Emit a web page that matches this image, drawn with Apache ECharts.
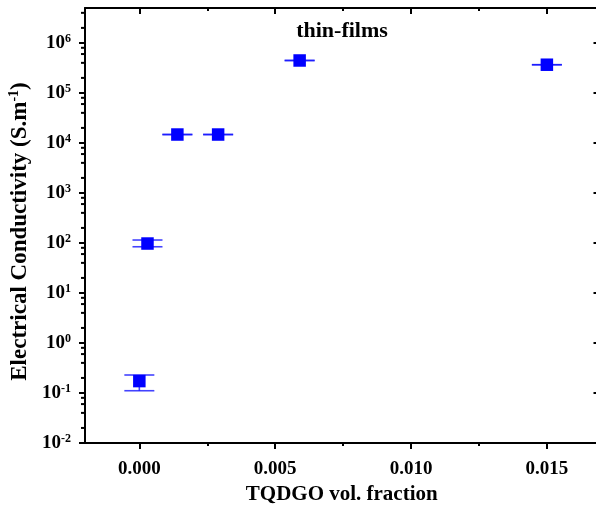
<!DOCTYPE html>
<html>
<head>
<meta charset="utf-8">
<script src="https://cdn.jsdelivr.net/npm/echarts@6/dist/echarts.min.js"></script>
<style>html,body{margin:0;padding:0;background:#fff}#c{width:596px;height:509px}</style>
</head>
<body>
<div id="c"></div>
<script>
// ---- data ----
const xValues = [0.0000, 0.0003, 0.0014, 0.0029, 0.0059, 0.0150];
const yValues = [0.173, 97.5, 14750, 14750, 446000, 367000];
const yErrLow = [0.111, 84, 14750, 14750, 446000, 367000];
const yErrHigh = [0.229, 114.6, 14750, 14750, 446000, 367000];
const xMajorTicks = [0, 0.005, 0.010, 0.015];
const xMinorTicks = [0.0025, 0.0075, 0.0125];
const yMajorTicks = [1e-2, 1e-1, 1e0, 1e1, 1e2, 1e3, 1e4, 1e5, 1e6];
const yMinorTicks = [0.02, 0.04, 0.06, 0.08, 0.2, 0.4, 0.6, 0.8, 2, 4, 6, 8, 20, 40, 60, 80,
  200, 400, 600, 800, 2000, 4000, 6000, 8000, 20000, 40000, 60000, 80000,
  200000, 400000, 600000, 800000, 2000000, 4000000];
const annotation = 'thin-films';
const xTitle = 'TQDGO vol. fraction';

const FONT = 'Liberation Serif';
const X_MIN = -0.002, X_MAX = 0.0169, Y_MIN = 0.01, Y_MAX = 5e6;

const chart = echarts.init(document.getElementById('c'), null, {renderer: 'canvas'});

function xAxisDef(opts) {
  return Object.assign({
    type: 'value', min: X_MIN, max: X_MAX, gridIndex: 0,
    splitLine: {show: false},
    axisLine: {show: false, onZero: false, lineStyle: {color: '#000', width: 2}},
    axisLabel: {show: false},
    axisTick: {show: false}
  }, opts);
}
function yAxisDef(opts) {
  return Object.assign({
    type: 'log', logBase: 10, min: Y_MIN, max: Y_MAX, gridIndex: 0,
    splitLine: {show: false},
    axisLine: {show: false, onZero: false, lineStyle: {color: '#000', width: 2}},
    axisLabel: {show: false},
    axisTick: {show: false}
  }, opts);
}

const supFmt = function (v) {
  const e = Math.round(Math.log10(v));
  return '{b|10}{s|' + (e < 0 ? '-' + (-e) : e) + '}';
};

const option = {
  animation: false,
  backgroundColor: '#fff',
  grid: {left: 85, top: 8, bottom: 66, width: 513.5, containLabel: false, outerBoundsMode: 'none'},
  xAxis: [
    xAxisDef({
      position: 'bottom',
      name: xTitle, nameLocation: 'middle', nameGap: 41,
      nameTextStyle: {fontFamily: FONT, fontWeight: 'bold', fontSize: 21, color: '#000', verticalAlign: 'top'},
      axisLine: {show: true, onZero: false, lineStyle: {color: '#000', width: 2}},
      axisTick: {show: true, inside: false, length: 6, lineStyle: {color: '#000', width: 2}, customValues: xMajorTicks},
      axisLabel: {show: true, margin: 17, customValues: xMajorTicks,
        formatter: function (v) { return v.toFixed(3); },
        fontFamily: FONT, fontWeight: 'bold', fontSize: 19, color: '#000'}
    }),
    xAxisDef({
      position: 'bottom',
      axisTick: {show: true, inside: false, length: 3, lineStyle: {color: '#000', width: 2}, customValues: xMinorTicks}
    }),
    xAxisDef({
      position: 'top',
      axisLine: {show: true, onZero: false, lineStyle: {color: '#000', width: 2}},
      axisTick: {show: true, inside: true, length: 6, lineStyle: {color: '#000', width: 2}, customValues: xMajorTicks}
    }),
    xAxisDef({
      position: 'top',
      axisTick: {show: true, inside: true, length: 3, lineStyle: {color: '#000', width: 2}, customValues: xMinorTicks}
    })
  ],
  yAxis: [
    yAxisDef({
      position: 'left',
      name: '{t|Electrical Conductivity (S.m}{s|-1}{t|)}',
      nameLocation: 'middle', nameGap: 44, nameRotate: 90,
      nameTextStyle: {
        padding: [0, 12, 0, 0],
        rich: {
          t: {fontFamily: FONT, fontWeight: 'bold', fontSize: 23, color: '#000', lineHeight: 24, verticalAlign: 'bottom'},
          s: {fontFamily: FONT, fontWeight: 'bold', fontSize: 14, color: '#000', lineHeight: 14, verticalAlign: 'top'}
        }
      },
      axisLine: {show: true, onZero: false, lineStyle: {color: '#000', width: 2}},
      axisTick: {show: true, inside: false, length: 6, lineStyle: {color: '#000', width: 2}, customValues: yMajorTicks},
      axisLabel: {show: true, margin: 14, customValues: yMajorTicks, formatter: supFmt,
        rich: {
          b: {fontFamily: FONT, fontWeight: 'bold', fontSize: 19, color: '#000', lineHeight: 20, verticalAlign: 'bottom'},
          s: {fontFamily: FONT, fontWeight: 'bold', fontSize: 12, color: '#000', lineHeight: 12, verticalAlign: 'top'}
        }
      }
    }),
    yAxisDef({
      position: 'right',
      axisLine: {show: true, onZero: false, lineStyle: {color: '#000', width: 2}},
      axisTick: {show: true, inside: true, length: 5, lineStyle: {color: '#000', width: 2}, customValues: yMajorTicks}
    })
  ],
  graphic: [{
    type: 'text', z: 100,
    style: {text: annotation, x: 342, y: 31, textAlign: 'center', textVerticalAlign: 'middle',
      font: 'bold 22px "Liberation Serif"', fill: '#000'}
  }],
  series: [
    {
      // minor ticks of the left log axis (2,4,6,8 x 10^n), placed through the axis scale
      type: 'scatter', xAxisIndex: 0, yAxisIndex: 0, z: 5, silent: true, clip: false,
      symbol: 'rect', symbolSize: [4, 2], symbolOffset: [-2, 0],
      itemStyle: {color: '#000', opacity: 1},
      data: yMinorTicks.map(function (v) { return [X_MIN, v]; })
    },
    {
      type: 'custom', xAxisIndex: 0, yAxisIndex: 0, z: 2,
      data: xValues.map(function (x, i) { return [x, yErrLow[i], yErrHigh[i]]; }),
      renderItem: function (params, api) {
        const lo = api.coord([api.value(0), api.value(1)]);
        const hi = api.coord([api.value(0), api.value(2)]);
        const hw = 15;
        const st = {stroke: 'rgba(20,20,255,0.8)', lineWidth: 1.6};
        return {
          type: 'group',
          children: [
            {type: 'line', shape: {x1: lo[0], y1: lo[1], x2: hi[0], y2: hi[1]}, style: st},
            {type: 'line', shape: {x1: lo[0] - hw, y1: lo[1], x2: lo[0] + hw, y2: lo[1]}, style: st},
            {type: 'line', shape: {x1: hi[0] - hw, y1: hi[1], x2: hi[0] + hw, y2: hi[1]}, style: st}
          ]
        };
      }
    },
    {
      type: 'scatter', xAxisIndex: 0, yAxisIndex: 0, z: 3,
      symbol: 'rect', symbolSize: 12.5,
      itemStyle: {color: '#0000ff', opacity: 1},
      data: xValues.map(function (x, i) { return [x, yValues[i]]; })
    }
  ]
};
chart.setOption(option);
</script>
</body>
</html>
